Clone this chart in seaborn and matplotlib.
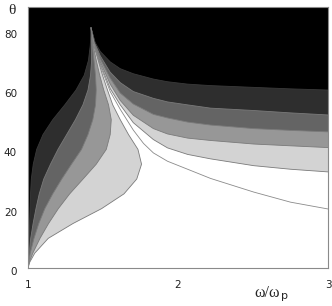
import matplotlib
matplotlib.use("Agg")
import matplotlib.pyplot as plt
from matplotlib.transforms import ScaledTranslation
import seaborn as sns

# cusp where all the boundaries meet
cusp_w, cusp_t = 1.42, 81.0

# right-hand branches: theta read at fixed omega/omega_p
right_w = [1.448, 1.482, 1.548, 1.615, 1.702, 1.836, 1.93, 2.064, 2.217, 2.505, 2.75, 3.0]
right_t0 = [76.0, 73.0, 69.5, 67.2, 65.5, 63.7, 62.8, 62.0, 61.5, 60.9, 60.4, 60.0]
right_t1 = [75.5, 71.5, 66.0, 62.5, 59.5, 57.2, 56.0, 55.0, 53.9, 53.1, 52.3, 51.6]
right_t2 = [75.0, 70.5, 64.0, 59.0, 55.3, 51.8, 50.6, 49.2, 48.2, 47.0, 46.4, 45.9]
right_t3 = [74.5, 69.5, 62.0, 56.5, 51.5, 47.0, 45.2, 43.8, 43.0, 41.8, 41.2, 40.6]
right_t4 = [74.0, 68.8, 60.5, 55.0, 49.0, 43.3, 40.5, 38.3, 36.8, 34.5, 33.3, 32.4]

# left-hand branches: omega/omega_p read at fixed theta
left_t = [0, 2, 5, 10, 15, 20, 25, 30, 35, 40, 45, 50, 55, 60, 65, 70, 75, 78]
left_w0 = [1.0, 1.002, 1.005, 1.008, 1.011, 1.014, 1.017, 1.022, 1.035, 1.058, 1.10, 1.165, 1.245, 1.32, 1.375, 1.403, 1.415, 1.418]
left_w1 = [1.0, 1.002, 1.007, 1.018, 1.034, 1.053, 1.075, 1.105, 1.15, 1.20, 1.258, 1.316, 1.366, 1.40, 1.417, 1.424, 1.424, 1.422]
left_w2 = [1.0, 1.005, 1.015, 1.04, 1.072, 1.112, 1.165, 1.225, 1.29, 1.357, 1.40, 1.432, 1.45, 1.455, 1.45, 1.44, 1.43, 1.425]
left_w3 = [1.0, 1.008, 1.032, 1.08, 1.137, 1.202, 1.278, 1.367, 1.455, 1.522, 1.548, 1.555, 1.537, 1.505, 1.478, 1.455, 1.435, 1.427]
left_w4 = [1.0, 1.012, 1.045, 1.135, 1.30, 1.49, 1.64, 1.725, 1.757, 1.733, 1.67, 1.615, 1.565, 1.53, 1.497, 1.468, 1.44, 1.43]

# the extra thin contour on the right
thin_w = [1.448, 1.482, 1.548, 1.615, 1.702, 1.77, 1.836, 1.93, 2.064, 2.217, 2.505, 2.75, 3.0]
thin_t = [73.6, 68.2, 59.5, 53.5, 46.5, 42.0, 38.8, 36.0, 33.3, 30.2, 25.6, 22.2, 19.9]

xticks = [1, 2, 3]
yticks = [0, 20, 40, 60, 80]

# fill colour on the "dark" side of each boundary
shades = ["#000000", "#2e2e2e", "#646464", "#979797", "#d3d3d3"]

lefts = [left_w0, left_w1, left_w2, left_w3, left_w4]
rights = [right_t0, right_t1, right_t2, right_t3, right_t4]

sns.set_style("white")
fig = plt.figure(figsize=(3.32, 3.06), dpi=100)
ax = fig.add_axes([28 / 332, 1 - 268 / 306, 300 / 332, 261 / 306])

top = 95
paths = []
for lw_, rt in zip(lefts, rights):
    xs = list(lw_) + [cusp_w] + list(right_w)
    ys = list(left_t) + [cusp_t] + list(rt)
    paths.append((xs, ys))

# paint from the lightest boundary inwards so darker regions sit on top
for k in range(4, -1, -1):
    xs, ys = paths[k]
    ax.fill(xs + [3.0, 1.0], ys + [top, top], color=shades[k], lw=0)

for xs, ys in paths[1:]:
    sns.lineplot(x=xs, y=ys, sort=False, estimator=None, color="#7a7a7a", lw=0.6, ax=ax)
xs, ys = paths[0]
sns.lineplot(x=xs, y=ys, sort=False, estimator=None, color="#3a3a3a", lw=0.6, ax=ax)
sns.lineplot(x=[cusp_w] + thin_w, y=[cusp_t] + thin_t, sort=False, estimator=None,
             color="#8a8a8a", lw=0.6, ax=ax)

ax.set_xlim(1, 3)
ax.set_ylim(0, 88)
ax.set_xticks(xticks)
ax.set_yticks(yticks)
ax.set_xticklabels([str(v) for v in xticks])
ax.set_yticklabels([str(v) for v in yticks])
ax.tick_params(axis="both", length=0, labelsize=7.5, labelcolor="#222222")
ax.tick_params(axis="x", pad=9)
ax.tick_params(axis="y", pad=8)
for lab in ax.get_yticklabels():
    lab.set_transform(lab.get_transform() + ScaledTranslation(0, -3 / 100, fig.dpi_scale_trans))
for s in ax.spines.values():
    s.set_color("#8a8a8a")
    s.set_linewidth(0.8)
ax.set_xlabel("")
ax.set_ylabel("")

serif = ["Liberation Serif", "DejaVu Serif"]
fig.text(12 / 332, 1 - 11 / 306, "θ", family=serif, fontsize=11, ha="center", va="center")
fig.text(280 / 332, 1 - 297 / 306, "ω/ω", family=serif, fontsize=11.5, ha="right", va="baseline")
fig.text(281 / 332, 1 - 299 / 306, "p", family="DejaVu Sans", fontsize=8, ha="left", va="baseline")

fig.savefig("out.png", dpi=100)
